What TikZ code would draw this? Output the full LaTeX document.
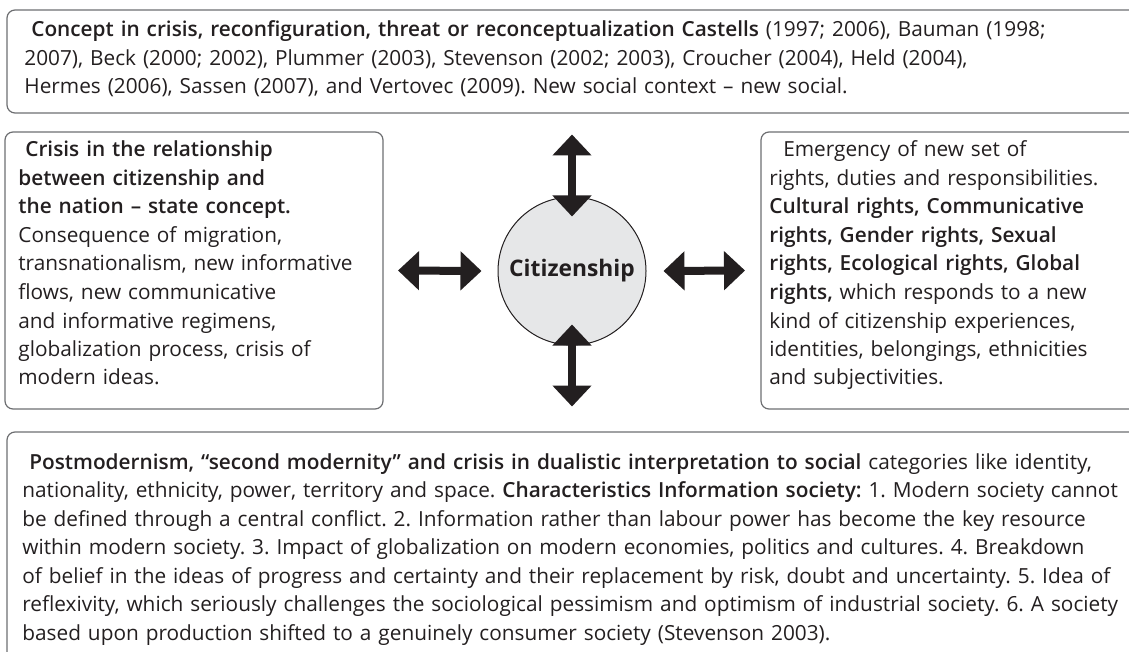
\documentclass[tikz,border=0pt]{standalone}
\usepackage{fontspec}
\setmainfont{Open Sans}[BoldFont={Open Sans Semibold}]
\newfontface\heavyface{Open Sans Bold}
\usetikzlibrary{arrows.meta,calc,positioning}
\definecolor{ink}{HTML}{231F20}
\definecolor{framegray}{HTML}{6D6E71}
\definecolor{discgray}{HTML}{E6E7E8}
\frenchspacing

\begin{document}
\begin{tikzpicture}[x=0.5pt,y=-0.5pt]
\tikzset{frame/.style = {draw=framegray, line width=0.6pt, rounded corners=4pt, anchor=north west, inner sep=0pt, outer sep=0pt}}
\tikzset{boxtext/.style = {anchor=base west, inner sep=0pt, text width=#1, align=left, text=ink, font=\fontsize{10.4pt}{14.25pt}\selectfont}}
\tikzset{disc/.style = {circle, draw=ink, line width=0.5pt, fill=discgray, minimum size=74pt, inner sep=0pt, text=ink, font=\fontsize{11.4pt}{13pt}\selectfont\heavyface}}
\tikzset{twoway/.style = {{Triangle[length=10.5pt,width=19pt]}-{Triangle[length=10.5pt,width=19pt]}, line width=4pt, draw=ink}}
\useasboundingbox (0,0) rectangle (1129,652);
% frames
\node[frame, minimum width=569pt, minimum height=51.5pt] (topbox) at (7,10) {};
\node[frame, minimum width=189pt, minimum height=138.5pt] (leftbox) at (5,132) {};
\node[frame, minimum width=192pt, minimum height=138.5pt] (rightbox) at (761,132) {};
\node[frame, minimum width=569pt, minimum height=120pt] (bottombox) at (7,432) {};
% texts
\node[boxtext=570pt] (toptext) at (24,37) {\ \textbf{Concept in crisis, reconfiguration, threat or reconceptualization Castells} (1997; 2006), Bauman (1998;\\
2007), Beck (2000; 2002), Plummer (2003), Stevenson (2002; 2003), Croucher (2004), Held (2004),\\
Hermes (2006), Sassen (2007), and Vertovec (2009). New social context -- new social.};
\node[boxtext=210pt] (lefttext) at (18,157) {\ \textbf{Crisis in the relationship}\\
\textbf{between citizenship and}\\
\textbf{the nation -- state concept.}\\
Consequence of migration,\\
transnationalism, new informative\\
flows, new communicative\\
and informative regimens,\\
globalization process, crisis of\\
modern ideas.};
\node[boxtext=210pt] (righttext) at (769,157) {\ \ Emergency of new set of\\
rights, duties and responsibilities.\\
\textbf{Cultural rights, Communicative}\\
\textbf{rights, Gender rights, Sexual}\\
\textbf{rights, Ecological rights, Global}\\
\textbf{rights,} which responds to a new\\
kind of citizenship experiences,\\
identities, belongings, ethnicities\\
and subjectivities.};
\node[boxtext=570pt] (bottomtext) at (22,469) {\ \textbf{Postmodernism, “second modernity” and crisis in dualistic interpretation to social} categories like identity,\\
nationality, ethnicity, power, territory and space. \textbf{Characteristics Information society:} 1. Modern society cannot\\
be defined through a central conflict. 2. Information rather than labour power has become the key resource\\
within modern society. 3. Impact of globalization on modern economies, politics and cultures. 4. Breakdown\\
of belief in the ideas of progress and certainty and their replacement by risk, doubt and uncertainty. 5. Idea of\\
reflexivity, which seriously challenges the sociological pessimism and optimism of industrial society. 6. A society\\
based upon production shifted to a genuinely consumer society (Stevenson 2003).};
% centre
\node[disc] (cit) at (572,271) {Citizenship};
% arrows
\coordinate (uptip) at ($(cit.north)+(0,-62)$);
\coordinate (downtip) at ($(cit.south)+(0,61)$);
\draw[twoway] (uptip) -- ($(cit.north)+(0,20)$);
\draw[twoway] ($(cit.south)+(0,-21)$) -- (downtip);
\draw[twoway] ($(leftbox.east)+(15,0)$) -- ($(cit.west)+(-16,0)$);
\draw[twoway] ($(cit.east)+(17,0)$) -- ($(rightbox.west)+(-16,0)$);
\end{tikzpicture}
\end{document}
